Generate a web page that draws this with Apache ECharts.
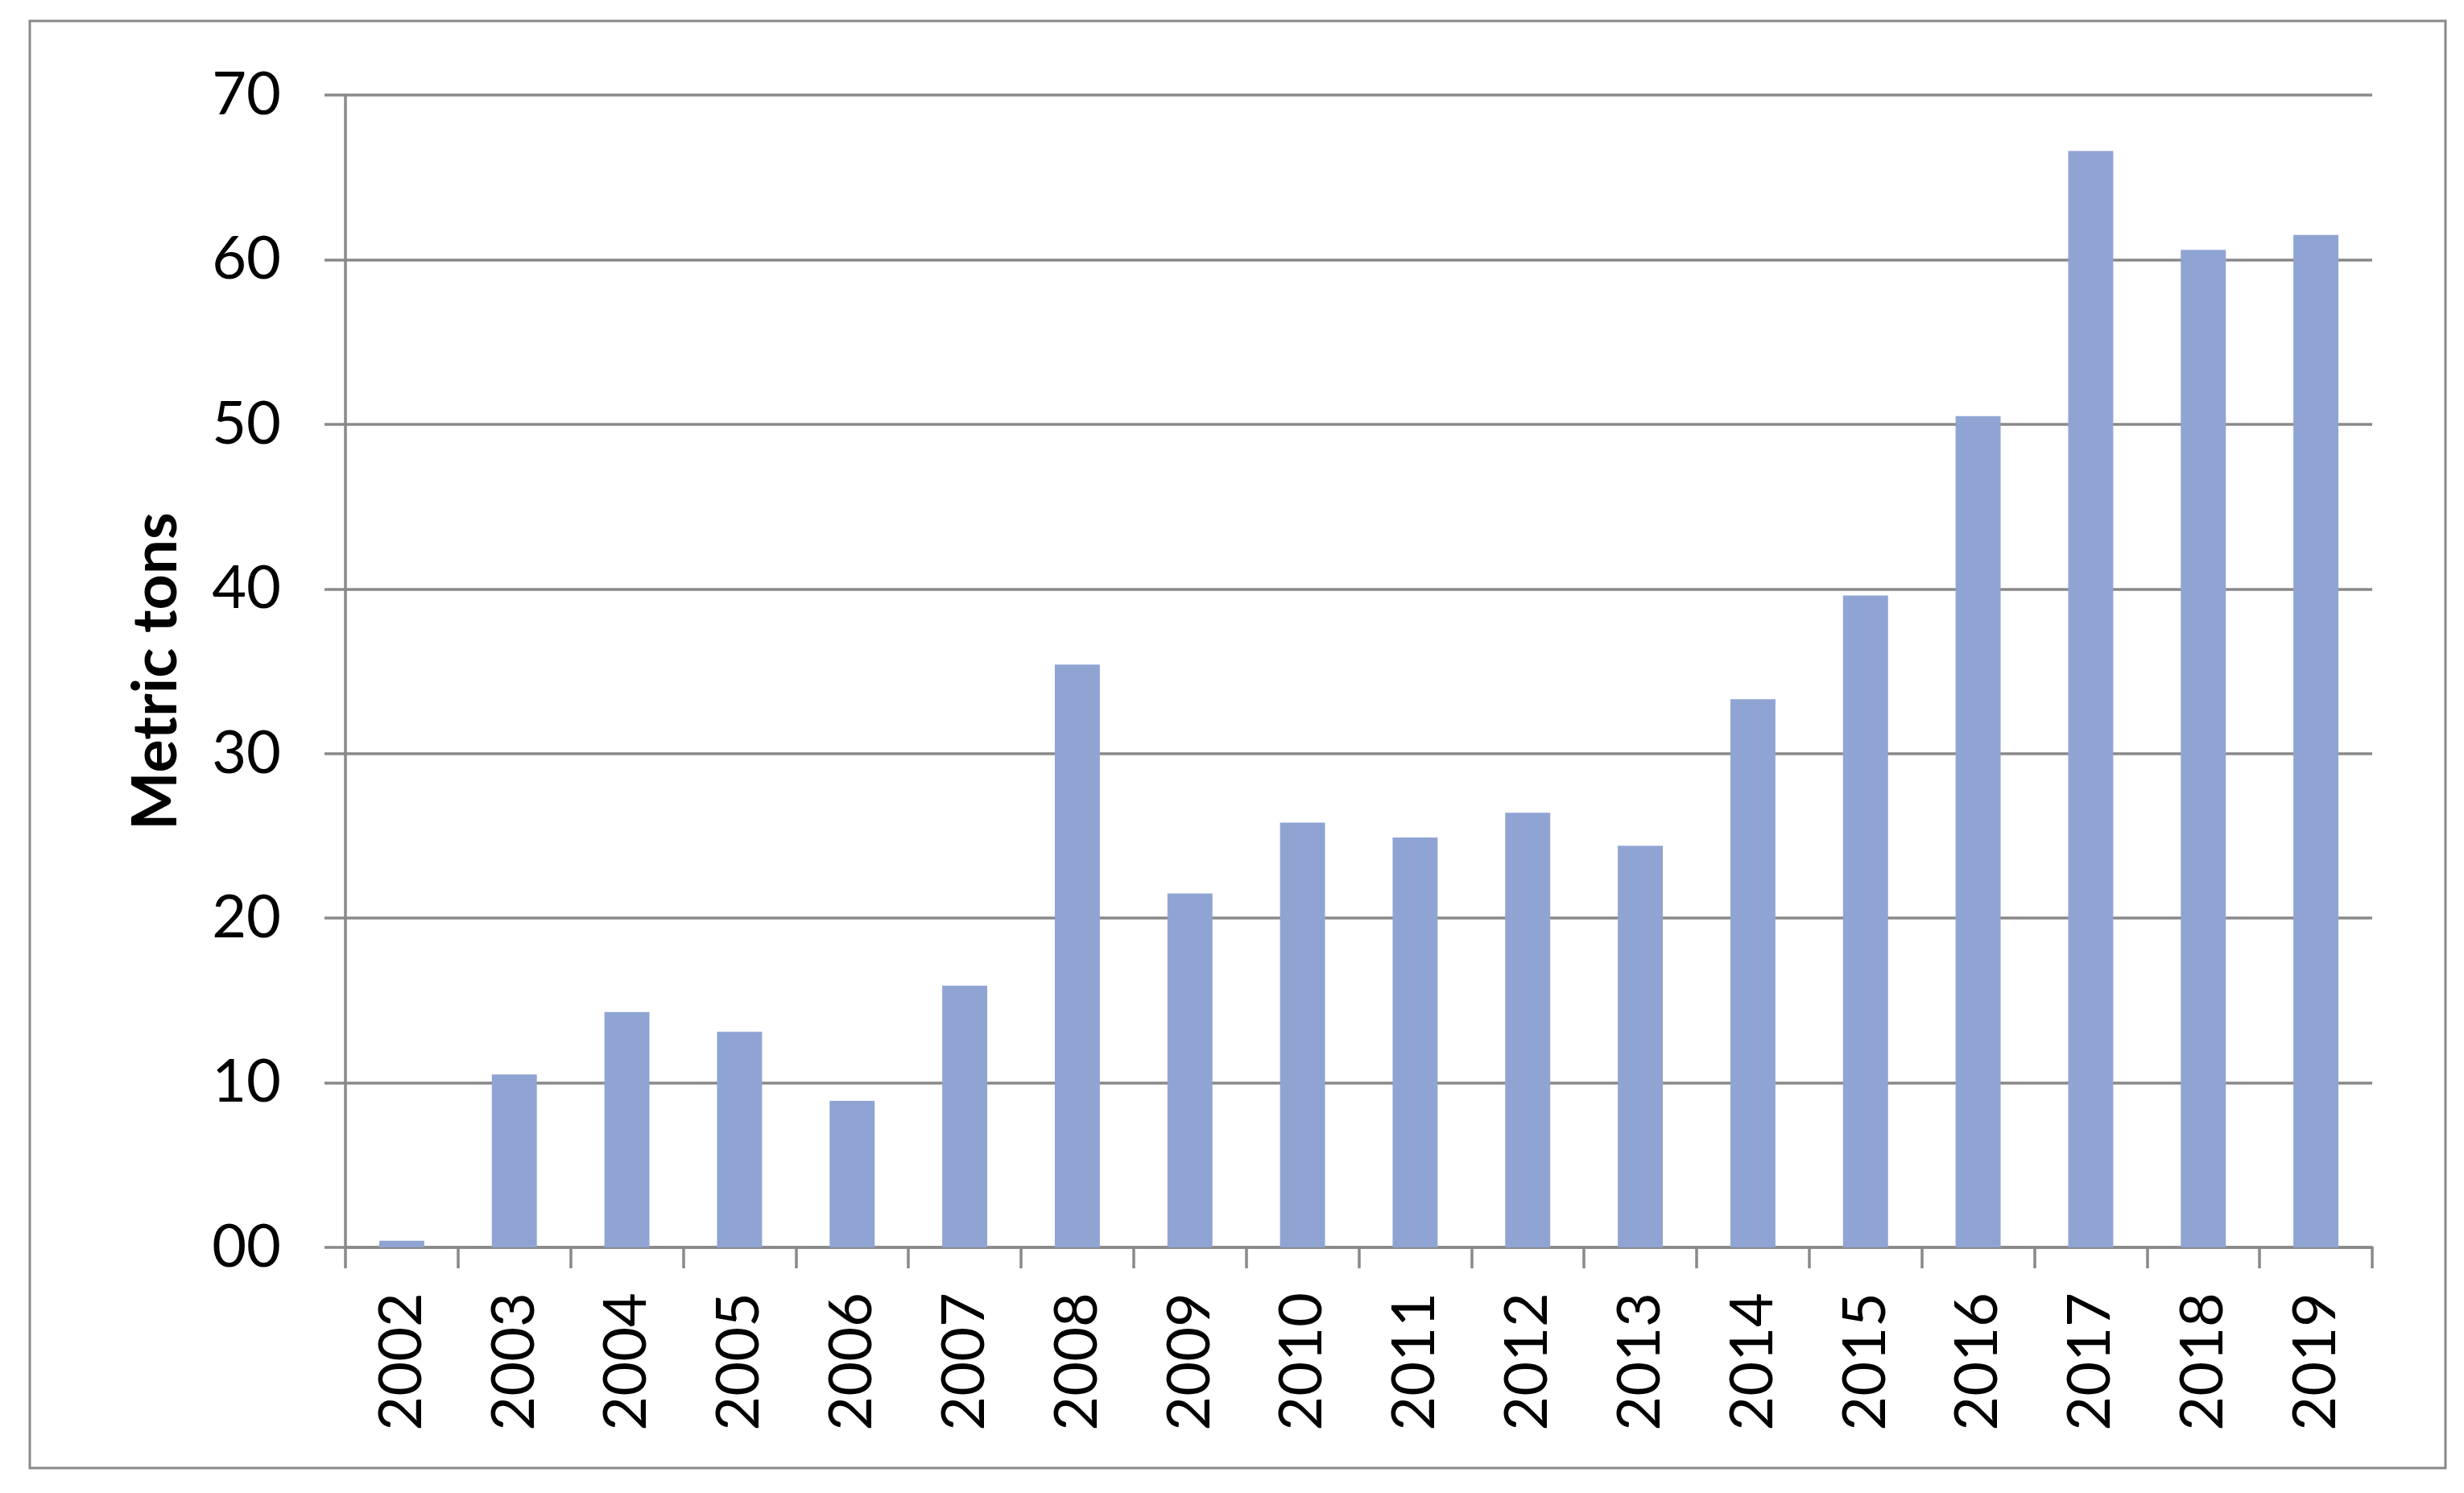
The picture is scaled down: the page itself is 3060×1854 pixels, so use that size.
<!DOCTYPE html>
<html>
<head>
<meta charset="utf-8">
<script src="https://cdn.jsdelivr.net/npm/echarts@6/dist/echarts.min.js"></script>
<style>
html,body{margin:0;padding:0;background:#fff;}
#chart{width:3060px;height:1854px;}
</style>
</head>
<body>
<div id="chart"></div>
<script>
const categories = ['2002','2003','2004','2005','2006','2007','2008','2009','2010','2011','2012','2013','2014','2015','2016','2017','2018','2019'];
const metricTons = [0.4, 10.5, 14.3, 13.1, 8.9, 15.9, 35.4, 21.5, 25.8, 24.9, 26.4, 24.4, 33.3, 39.6, 50.5, 66.6, 60.6, 61.5];
const yTickLabels = ['00','10','20','30','40','50','60','70'];
const yAxisTitle = 'Metric tons';

const FONT = 'Lato';
const GRAY = '#898989';

const chart = echarts.init(document.getElementById('chart'), null, {renderer:'canvas'});
chart.setOption({
  animation: false,
  backgroundColor: '#ffffff',
  graphic: [{
    type: 'rect',
    shape: {x: 37, y: 26, width: 3000, height: 1797},
    style: {fill: 'none', stroke: GRAY, lineWidth: 3},
    z: -1
  }],
  grid: {left: 429, right: 114, top: 118, bottom: 305, containLabel: false},
  xAxis: {
    type: 'category',
    data: categories,
    boundaryGap: true,
    axisLine: {show: true, lineStyle: {color: GRAY, width: 3.5}},
    axisTick: {show: true, inside: false, length: 26, alignWithLabel: false, lineStyle: {color: GRAY, width: 3.5}},
    axisLabel: {rotate: 90, margin: 56, color: '#000', fontFamily: FONT, fontSize: 74, interval: 0}
  },
  yAxis: {
    type: 'value',
    min: 0, max: 70, interval: 10,
    name: yAxisTitle,
    nameLocation: 'middle',
    nameGap: 196,
    nameRotate: 90,
    nameTextStyle: {color: '#000', fontFamily: FONT, fontWeight: 'bold', fontSize: 77},
    axisLine: {show: true, lineStyle: {color: GRAY, width: 3.5}},
    axisTick: {show: true, inside: false, length: 26, lineStyle: {color: GRAY, width: 3.5}},
    splitLine: {show: true, lineStyle: {color: GRAY, width: 3.5}},
    axisLabel: {
      margin: 80, color: '#000', fontFamily: FONT, fontSize: 74,
      formatter: function (v) { return yTickLabels[Math.round(v / 10)]; }
    }
  },
  series: [{
    type: 'bar',
    data: metricTons,
    barWidth: '40%',
    itemStyle: {color: '#90a4d4'}
  }]
});
</script>
</body>
</html>
